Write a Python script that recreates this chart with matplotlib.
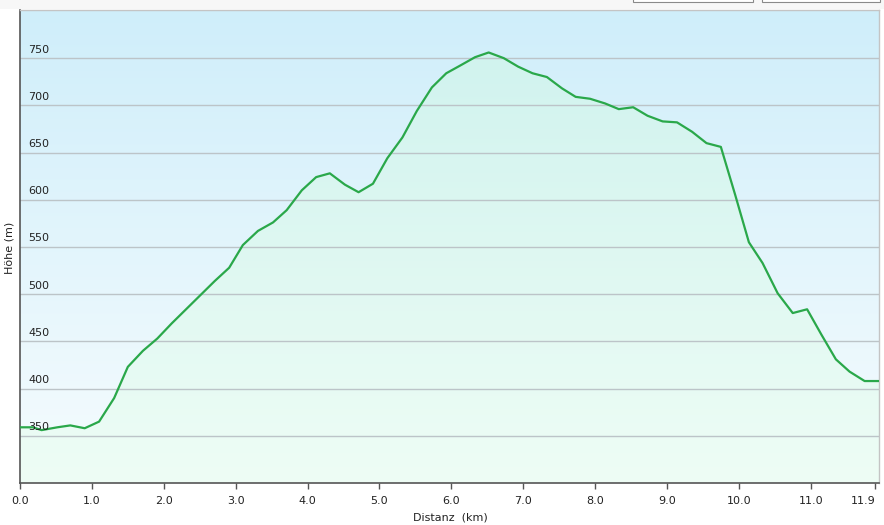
import numpy as np
import matplotlib
matplotlib.use("Agg")
import matplotlib.pyplot as plt
import matplotlib.transforms as mtransforms
from matplotlib.patches import Rectangle

# elevation profile: distance (km) vs height (m)
dist = [0.0, 0.18, 0.30, 0.52, 0.70, 0.90, 1.10, 1.31, 1.50, 1.71, 1.91,
        2.11, 2.31, 2.51, 2.71, 2.91, 3.10, 3.31, 3.52, 3.71, 3.92, 4.12,
        4.31, 4.52, 4.71, 4.91, 5.11, 5.32, 5.52, 5.73, 5.93, 6.12, 6.33,
        6.52, 6.73, 6.93, 7.13, 7.33, 7.54, 7.73, 7.93, 8.14, 8.33, 8.53,
        8.73, 8.94, 9.14, 9.35, 9.55, 9.75, 9.95, 10.14, 10.33, 10.54,
        10.75, 10.95, 11.15, 11.35, 11.54, 11.75, 11.95]
elev = [359, 359, 356, 359, 361, 358, 365, 390, 423, 440, 453,
        469, 484, 499, 514, 528, 552, 567, 576, 589, 610, 624,
        628, 616, 608, 617, 644, 666, 694, 719, 734, 742, 751,
        756, 750, 741, 734, 730, 718, 709, 707, 702, 696, 698,
        689, 683, 682, 672, 660, 656, 605, 555, 533, 501,
        480, 484, 457, 431, 418, 408, 408]

xticks = [0, 1, 2, 3, 4, 5, 6, 7, 8, 9, 10, 11, 11.9]
xticklabels = ["0.0", "1.0", "2.0", "3.0", "4.0", "5.0", "6.0", "7.0",
               "8.0", "9.0", "10.0", "11.0", "11.9"]
yticks = [350, 400, 450, 500, 550, 600, 650, 700, 750]

W, H = 884, 525
fig = plt.figure(figsize=(W / 100, H / 100), dpi=100)
fig.patch.set_facecolor("white")

# top toolbar strip with two buttons
fig.patches.append(Rectangle((0, 1 - 9 / H), 1, 9 / H, transform=fig.transFigure,
                             facecolor="#f7f7f7", edgecolor="none", zorder=0))
for bx, bw in [(633, 120), (762, 118)]:
    fig.patches.append(Rectangle((bx / W, 1 - 2 / H), bw / W, 4 / H,
                                 transform=fig.transFigure, facecolor="white",
                                 edgecolor="#8a8a8a", lw=0.8, zorder=1))

ax = fig.add_axes([20 / W, 1 - 483 / H, 859 / W, 473 / H])
xmax, ymin, ymax = 11.95, 300, 801
ax.set_xlim(0, xmax)
ax.set_ylim(ymin, ymax)


def vgrad(c_top, c_bot):
    t = np.linspace(0, 1, 256)[:, None]
    g = np.array(c_top) / 255 * (1 - t) + np.array(c_bot) / 255 * t
    return g[:, None, :]


# background gradient light blue -> almost white
ax.imshow(vgrad((207, 238, 250), (246, 252, 254)), extent=[0, xmax, ymin, ymax],
          aspect="auto", origin="upper", zorder=0)

# area under the profile: mint gradient
poly = ax.fill_between(dist, elev, ymin, color="none", lw=0, zorder=1)
img = ax.imshow(vgrad((206, 242, 238), (238, 253, 245)), extent=[0, xmax, ymin, ymax],
                aspect="auto", origin="upper", zorder=1)
img.set_clip_path(poly.get_paths()[0], transform=ax.transData)

for v in yticks:
    ax.axhline(v, color="#bcc4c8", lw=1.0, zorder=2)
ax.plot(dist, elev, color="#2aa84a", lw=1.6, zorder=3, solid_joinstyle="round")

# y tick labels drawn inside the plot above the grid lines
trans = mtransforms.blended_transform_factory(ax.transAxes, ax.transData)
for v in yticks:
    ax.annotate(str(v), (8 / 859, v), xycoords=trans, xytext=(0, 2.5),
                textcoords="offset points", fontsize=8, color="#222222",
                va="bottom", ha="left", zorder=4)
ax.set_yticks([])

ax.set_xticks(xticks)
ax.set_xticklabels(xticklabels, fontsize=8, color="#222222")
ax.get_xticklabels()[-1].set_horizontalalignment("right")
ax.tick_params(axis="x", direction="out", length=4, width=1, color="#555555", pad=5)

for s in ["left", "bottom"]:
    ax.spines[s].set_color("#555555")
    ax.spines[s].set_linewidth(1.2)
for s in ["top", "right"]:
    ax.spines[s].set_color("#c4c4c4")
    ax.spines[s].set_linewidth(1.0)

fig.text(450 / W, 1 - 517 / H, "Distanz  (km)", fontsize=8, color="#222222",
         ha="center", va="center")
fig.text(10 / W, 1 - 248 / H, "Höhe (m)", fontsize=8, color="#222222",
         ha="center", va="center", rotation=90)

fig.savefig("out.png", dpi=100)
